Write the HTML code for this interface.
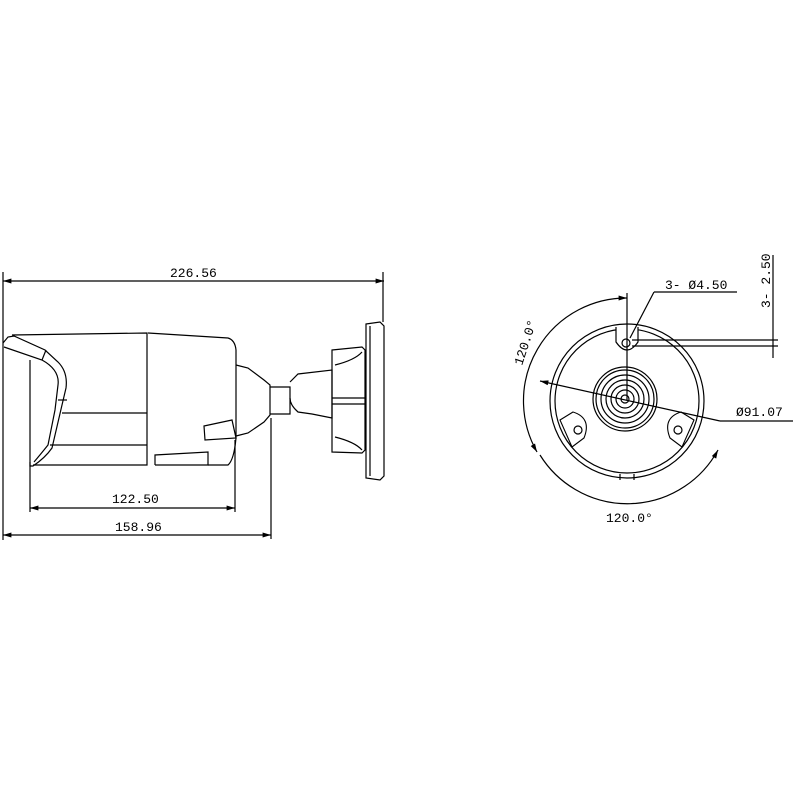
<!DOCTYPE html>
<html><head><meta charset="utf-8"><style>html,body{margin:0;padding:0;background:#fff}svg{display:block}</style></head>
<body>
<svg width="793" height="793" viewBox="0 0 793 793" xmlns="http://www.w3.org/2000/svg" fill="none" stroke="#000" stroke-width="1.2" font-family="Liberation Mono, monospace" font-size="13">
<defs><marker id="a" viewBox="0 0 10 10" refX="10" refY="5" markerWidth="7" markerHeight="7" orient="auto-start-reverse"><path d="M0,2 L10,5 L0,8z" fill="#000" stroke="none"/></marker></defs>
<!-- left view dims -->
<line x1="3" y1="281" x2="384" y2="281" marker-start="url(#a)" marker-end="url(#a)"/>
<line x1="3" y1="272" x2="3" y2="540"/>
<line x1="383" y1="272" x2="383" y2="322"/>
<text x="170" y="277" fill="#000" stroke="none">226.56</text>
<line x1="30" y1="508" x2="235" y2="508" marker-start="url(#a)" marker-end="url(#a)"/>
<line x1="30" y1="462" x2="30" y2="512"/>
<line x1="235" y1="440" x2="235" y2="512"/>
<text x="112" y="503" fill="#000" stroke="none">122.50</text>
<line x1="3" y1="535" x2="271" y2="535" marker-start="url(#a)" marker-end="url(#a)"/>
<line x1="271" y1="418" x2="271" y2="539"/>
<text x="115" y="531" fill="#000" stroke="none">158.96</text>
<!-- body -->
<path d="M12,335 L147,333 L147,465 L33,465"/>
<path d="M3,343 L8,337 L14,336 L45,350 L58,362 Q68,372 66,388 L62,405 L52,448 Q45,458 33,466 L30,466 L30,360"/>
<path d="M4,347 L42,360 Q60,370 58,385 L55,410 L48,445 Q40,455 34,462"/>
<line x1="62" y1="413" x2="147" y2="413"/>
<line x1="50" y1="445" x2="147" y2="445"/>
<line x1="42" y1="360" x2="46" y2="350"/>
<line x1="58" y1="400" x2="67" y2="400"/>
<path d="M148,333 L228,338 Q235,340 236,350 L236,438 Q234,460 228,465 L208,465"/>
<path d="M155,465 L155,455 L208,452 L208,465 L155,465"/>
<path d="M204,426 L232,420 L236,438 L205,440 Z"/>
<!-- neck -->
<path d="M236,365 L248,368 L264,380 L270,385 L270,415 L264,422 L248,433 L236,436"/>
<path d="M270,387 L290,387 L290,414 L270,414"/>
<path d="M290,382 L298,374 L332,370 L332,418 L312,414 L298,412 Q290,405 290,398"/>
<path d="M332,350 L362,347 L365,350 L365,450 L362,453 L332,452 Z"/>
<line x1="332" y1="398" x2="365" y2="398"/><line x1="332" y1="404" x2="365" y2="404"/>
<path d="M335,365 Q355,360 362,352"/><path d="M335,437 Q355,442 362,450"/>
<path d="M366,324 L380,322 L384,326 L384,476 L380,480 L366,478 Z"/>
<line x1="370" y1="326" x2="370" y2="476"/>
<!-- right view -->
<circle cx="627" cy="401" r="77"/>
<circle cx="627" cy="401" r="72"/>
<path d="M616,327 L616,342 Q627,358 638,342 L638,327" fill="#fff"/>
<circle cx="626" cy="343" r="4"/>
<path d="M560,420 L573,412 Q592,418 584,438 L572,447 Z" fill="#fff" stroke-width="1.1"/>
<circle cx="578" cy="430" r="4"/>
<path d="M694,420 L681,412 Q662,418 670,438 L682,447 Z" fill="#fff" stroke-width="1.1"/>
<circle cx="678" cy="430" r="4"/>
<path d="M620,474 L620,480 M634,474 L634,480"/>
<circle cx="625" cy="399" r="32"/><circle cx="625" cy="399" r="29"/>
<circle cx="625" cy="399" r="24"/><circle cx="625" cy="399" r="19"/>
<circle cx="625" cy="399" r="14"/><circle cx="625" cy="399" r="9"/><circle cx="625" cy="399" r="4"/>
<line x1="627" y1="293" x2="627" y2="400"/>
<path d="M627,298 A103,103 0 0 0 537,452" marker-start="url(#a)" marker-end="url(#a)"/>
<path d="M540,455 A103,103 0 0 0 718,450" marker-end="url(#a)"/>
<line x1="540" y1="381" x2="720" y2="421" marker-start="url(#a)"/>
<line x1="720" y1="421" x2="793" y2="421"/>
<text x="736" y="416" fill="#000" stroke="none">Ø91.07</text>
<line x1="630" y1="338" x2="654" y2="292"/>
<line x1="654" y1="292" x2="737" y2="292"/>
<text x="665" y="289" fill="#000" stroke="none">3- Ø4.50</text>
<line x1="773" y1="255" x2="773" y2="358"/>
<line x1="632" y1="340" x2="778" y2="340"/><line x1="632" y1="346" x2="778" y2="346"/>
<text transform="translate(770,308) rotate(-90)" fill="#000" stroke="none">3- 2.50</text>
<text transform="translate(522,366) rotate(-72)" fill="#000" stroke="none">120.0°</text>
<text x="606" y="522" fill="#000" stroke="none">120.0°</text>
</svg>
</body></html>
